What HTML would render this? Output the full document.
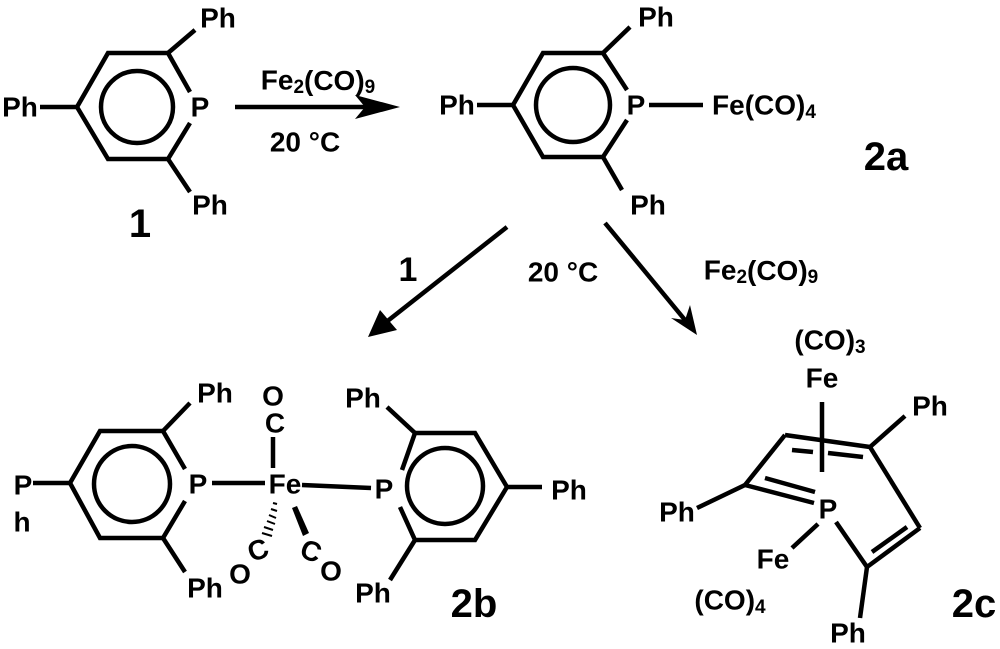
<!DOCTYPE html>
<html><head><meta charset="utf-8"><style>
html,body{margin:0;padding:0;background:#fff}
svg{display:block}
text{font-family:"Liberation Sans",Arial,sans-serif;font-weight:bold;fill:#000}
.l{font-size:28px}
.b{font-size:40px}
</style></head><body>
<svg width="1000" height="649" viewBox="0 0 1000 649" xmlns="http://www.w3.org/2000/svg">
<g stroke="#000" stroke-width="4.5" fill="none" stroke-linejoin="miter">
<!-- 1 -->
<polyline points="190,92 168,53 108,53 77,107 108,159 168,159 190,123"/>
<circle cx="137" cy="107" r="36"/>
<line x1="40" y1="107" x2="77" y2="107"/>
<line x1="168" y1="53" x2="195" y2="30"/>
<line x1="168" y1="159" x2="190" y2="192"/>
<line x1="235" y1="107" x2="365" y2="107"/>
<!-- 2a -->
<polyline points="627,90 603,53 543,53 513,105 543,157 603,157 627,120"/>
<circle cx="573" cy="105" r="37"/>
<line x1="477" y1="105" x2="513" y2="105"/>
<line x1="603" y1="53" x2="630" y2="27"/>
<line x1="603" y1="157" x2="622" y2="190"/>
<line x1="649" y1="105" x2="703" y2="105"/>
<!-- arrows -->
<line x1="507" y1="227" x2="385" y2="323"/>
<line x1="605" y1="223" x2="685" y2="320"/>
<!-- 2b left -->
<polyline points="185,469 163,431 100,431 70,483 100,538 163,538 185,501"/>
<circle cx="132" cy="484" r="38"/>
<line x1="33" y1="483" x2="70" y2="483"/>
<line x1="163" y1="431" x2="190" y2="403"/>
<line x1="163" y1="538" x2="185" y2="572"/>
<line x1="212" y1="483" x2="265" y2="483"/>
<line x1="273" y1="468" x2="273" y2="437"/>
<line x1="302" y1="485" x2="371" y2="488"/>
<!-- 2b right -->
<polyline points="402,470 415,433 475,433 507,487 475,540 415,540 400,507"/>
<circle cx="445" cy="486" r="38"/>
<line x1="507" y1="487" x2="542" y2="487"/>
<line x1="415" y1="433" x2="387" y2="407"/>
<line x1="415" y1="540" x2="390" y2="580"/>
<!-- 2c -->
<line x1="745" y1="485" x2="785" y2="435"/>
<line x1="785" y1="435" x2="870" y2="447"/>
<line x1="792" y1="450" x2="813" y2="452"/>
<line x1="828" y1="453" x2="863" y2="457"/>
<line x1="870" y1="447" x2="920" y2="528"/>
<line x1="920" y1="528" x2="867" y2="567"/>
<line x1="872" y1="552" x2="907" y2="527"/>
<line x1="867" y1="567" x2="836" y2="522"/>
<line x1="745" y1="485" x2="814" y2="503"/>
<line x1="765" y1="478" x2="815" y2="492"/>
<line x1="822" y1="402" x2="822" y2="472"/>
<line x1="745" y1="485" x2="697" y2="508"/>
<line x1="870" y1="447" x2="905" y2="416"/>
<line x1="867" y1="567" x2="860" y2="618"/>
<line x1="818" y1="524" x2="792" y2="548"/>
</g>
<polygon points="400,107 355,95 365,107 355,119"/>
<polygon points="368,337 380,310 391,323 397,330"/>
<polygon points="697,335 671,318 685,320 690,305"/>
<polygon points="292,508 297,506 309,533 303,536"/>
<g stroke="#000" stroke-width="2">
<line x1="273" y1="503" x2="277" y2="504"/>
<line x1="271" y1="509" x2="277" y2="511"/>
<line x1="269" y1="515" x2="276" y2="518"/>
<line x1="267" y1="521" x2="275" y2="524"/>
<line x1="264" y1="527" x2="273" y2="530"/>
<line x1="262" y1="533" x2="272" y2="536"/>
</g>
<g class="l" text-anchor="middle" dominant-baseline="central">
<text x="218" y="18">Ph</text>
<text x="20" y="107">Ph</text>
<text x="200" y="107">P</text>
<text x="210" y="205">Ph</text>
<text x="318" y="80">Fe<tspan font-size="19" dy="7">2</tspan><tspan dy="-7">(CO)</tspan><tspan font-size="19" dy="7">9</tspan></text>
<text x="305" y="142">20 °C</text>
<text x="457" y="105">Ph</text>
<text x="656" y="17">Ph</text>
<text x="636" y="105">P</text>
<text x="764" y="105">Fe(CO)<tspan font-size="19" dy="7">4</tspan></text>
<text x="648" y="205">Ph</text>
<text x="563" y="272">20 °C</text>
<text x="761" y="270">Fe<tspan font-size="19" dy="7">2</tspan><tspan dy="-7">(CO)</tspan><tspan font-size="19" dy="7">9</tspan></text>
<text x="215" y="393">Ph</text>
<text x="23" y="485">P</text>
<text x="22" y="522">h</text>
<text x="198" y="484">P</text>
<text x="285" y="484">Fe</text>
<text x="275" y="423">C</text>
<text x="273" y="396">O</text>
<text x="258" y="550" transform="rotate(-20 258 550)">C</text>
<text x="240" y="574">O</text>
<text x="311" y="551" transform="rotate(20 311 551)">C</text>
<text x="331" y="571">O</text>
<text x="205" y="588">Ph</text>
<text x="363" y="398">Ph</text>
<text x="384" y="489">P</text>
<text x="569" y="490">Ph</text>
<text x="373" y="593">Ph</text>
<text x="830" y="340">(CO)<tspan font-size="19" dy="7">3</tspan></text>
<text x="822" y="378">Fe</text>
<text x="930" y="406">Ph</text>
<text x="677" y="512">Ph</text>
<text x="828" y="509">P</text>
<text x="773" y="559">Fe</text>
<text x="730" y="600">(CO)<tspan font-size="19" dy="7">4</tspan></text>
<text x="848" y="633">Ph</text>
</g>
<g class="b" text-anchor="middle" dominant-baseline="central">
<text x="140" y="224">1</text>
<text x="408" y="270" style="font-size:34px">1</text>
<text x="886" y="157">2a</text>
<text x="474" y="604">2b</text>
<text x="974" y="604">2c</text>
</g>
</svg>
</body></html>
